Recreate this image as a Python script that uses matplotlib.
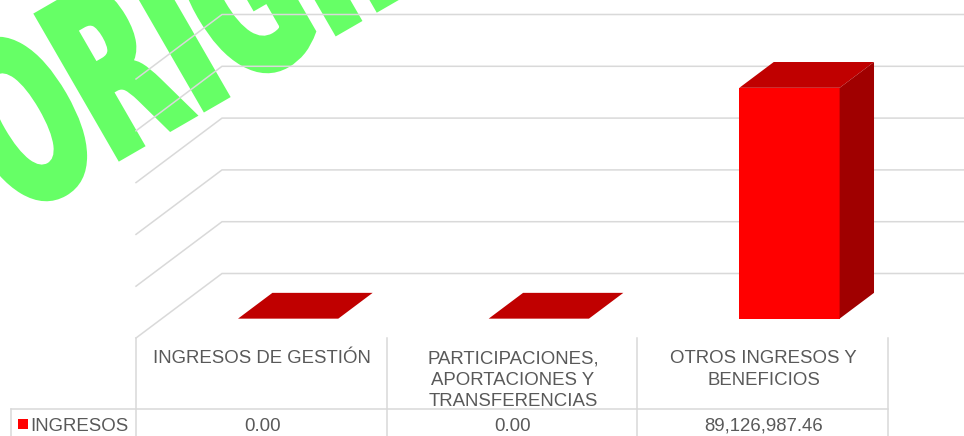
import matplotlib
matplotlib.use('Agg')
import matplotlib.pyplot as plt
import matplotlib.patheffects as pe
from matplotlib.transforms import Affine2D, IdentityTransform

categories = ['INGRESOS DE GESTIÓN',
              'PARTICIPACIONES,\nAPORTACIONES Y\nTRANSFERENCIAS',
              'OTROS INGRESOS Y\nBENEFICIOS']
values = [0.00, 0.00, 89126987.46]
series_name = 'INGRESOS'
grid_ticks = [0, 20000000, 40000000, 60000000, 80000000, 100000000]

GRID = '#D9D9D9'
TXT = '#595959'
FS = 13.4

# pixel layout of the picture
W, H = 964, 436
PX_X0, PX_COL = 136, 250.67
PX_Y0, PX_PER_UNIT = 338, 259 / 1e8
DEPTH_X = 86 / PX_COL
DEPTH_Y = 64.5 / PX_PER_UNIT
MID = 0.504


def py(p):
    # picture row -> value axis
    return (PX_Y0 - p) / PX_PER_UNIT


def px(p):
    # picture column -> category axis
    return (p - PX_X0) / PX_COL


class Squeeze(pe.AbstractPathEffect):
    # narrows the glyphs and thickens them, the font list has no condensed black face
    def __init__(self, sx, lw):
        super().__init__()
        self.sx = sx
        self.lw = lw

    def draw_path(self, renderer, gc, tpath, affine, rgbFace=None):
        gc0 = renderer.new_gc()
        gc0.copy_properties(gc)
        gc0.set_foreground(rgbFace)
        gc0.set_linewidth(self.lw)
        gc0.set_joinstyle('miter')
        renderer.draw_path(gc0, tpath, Affine2D().scale(self.sx, 1) + affine, rgbFace)
        gc0.restore()


plt.rcParams['font.family'] = ['Liberation Sans', 'DejaVu Sans']
fig = plt.figure(figsize=(W / 100, H / 100), dpi=100)
ax = fig.add_axes([0, 0, 1, 1])
ax.set_xlim(px(0), px(W))
ax.set_ylim(py(H), py(0))
ax.axis('off')

# watermark, behind the chart
ax.text(16, H - 217, 'ORIGINAL', family='DejaVu Sans', weight='bold', fontsize=162,
        color='#66FF66', rotation=30, rotation_mode='anchor', ha='left', va='baseline',
        transform=IdentityTransform(), zorder=0,
        path_effects=[Squeeze(0.567, 5)])

# floor/wall gridlines
for t in grid_ticks:
    ax.plot([0, DEPTH_X, px(W + 20)], [t, t + DEPTH_Y, t + DEPTH_Y],
            color=GRID, lw=1.1, zorder=1, solid_joinstyle='miter')

# bars
bar_w = 0.4
d0, d1 = 0.3, 0.7
for i, v in enumerate(values):
    xl = i + MID - bar_w / 2
    xr = i + MID + bar_w / 2
    # front
    ax.bar(i + MID + d0 * DEPTH_X, v, width=bar_w, bottom=d0 * DEPTH_Y, color='#FF0000', zorder=3)
    # top
    ax.fill([xl + d0 * DEPTH_X, xr + d0 * DEPTH_X, xr + d1 * DEPTH_X, xl + d1 * DEPTH_X],
            [v + d0 * DEPTH_Y, v + d0 * DEPTH_Y, v + d1 * DEPTH_Y, v + d1 * DEPTH_Y],
            color='#C00000', lw=0, zorder=3)
    # side
    ax.fill([xr + d0 * DEPTH_X, xr + d1 * DEPTH_X, xr + d1 * DEPTH_X, xr + d0 * DEPTH_X],
            [d0 * DEPTH_Y, d1 * DEPTH_Y, v + d1 * DEPTH_Y, v + d0 * DEPTH_Y],
            color='#A00000', lw=0, zorder=3)

# data table under the chart
row_y = py(409)
for i in range(len(categories) + 1):
    ax.plot([i, i], [0, py(H)], color=GRID, lw=1.1, zorder=2)
ax.plot([px(11), len(categories)], [row_y, row_y], color=GRID, lw=1.1, zorder=2)
ax.plot([px(11), px(11)], [row_y, py(H)], color=GRID, lw=1.1, zorder=2)

for i, (c, v) in enumerate(zip(categories, values)):
    # one text per line, matplotlib's line pitch depends on the glyphs
    for k, line in enumerate(c.split('\n')):
        ax.text(i + MID, py(363 + 21.5 * k), line, ha='center', va='baseline', fontsize=FS, color=TXT)
    ax.text(i + MID, py(430.5), f'{v:,.2f}', ha='center', va='baseline', fontsize=FS, color=TXT)

ax.bar(px(23), 10 / PX_PER_UNIT, width=10 / PX_COL, bottom=py(429), color='#FF0000', zorder=3)
ax.text(px(30), py(430.5), series_name, ha='left', va='baseline', fontsize=FS, color=TXT)

fig.savefig('out.png', dpi=100)
